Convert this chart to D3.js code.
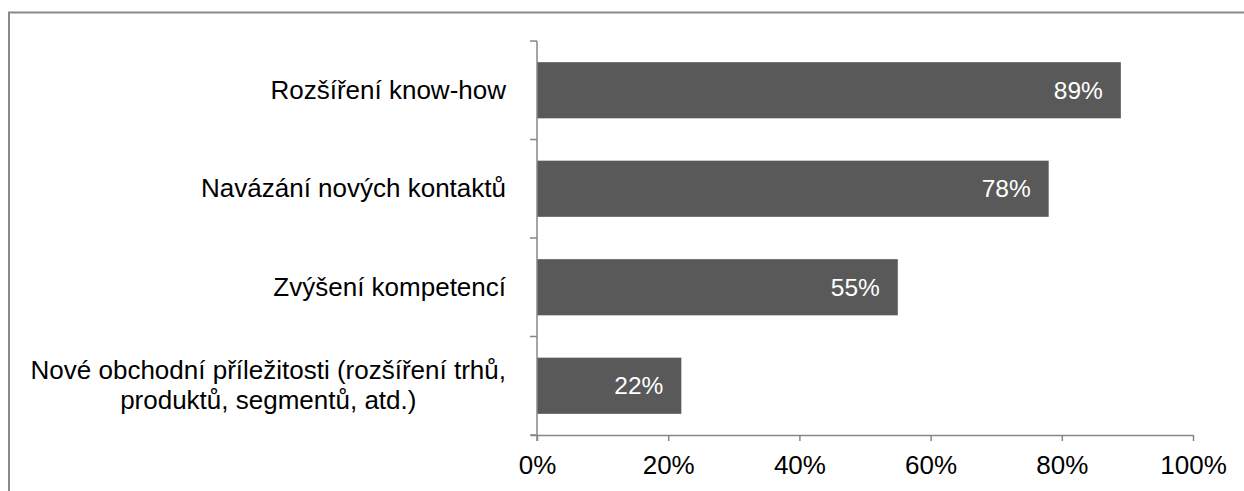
<!DOCTYPE html>
<html>
<head>
<meta charset="utf-8">
<script src="https://cdn.jsdelivr.net/npm/d3@7"></script>
<style>
html,body{margin:0;padding:0;background:#fff;}
svg{display:block;font-family:"Liberation Sans",Arial,sans-serif;}
</style>
</head>
<body>
<svg id="chart" width="1244" height="491"></svg>
<script>
const categories = [
  ["Rozšíření know-how"],
  ["Navázání nových kontaktů"],
  ["Zvýšení kompetencí"],
  ["Nové obchodní příležitosti (rozšíření trhů,", "produktů, segmentů, atd.)"]
];
const values = [89, 78, 55, 22];
const xTicks = [0, 20, 40, 60, 80, 100];

const svg = d3.select("#chart");
const axisColor = "#878787";

// chart border (top and left visible)
svg.append("path")
  .attr("d", "M9,491 V12.5 H1244")
  .attr("fill", "none").attr("stroke", "#8a8a8a").attr("stroke-width", 2);

const x = d3.scaleLinear().domain([0, 100]).range([537, 1193]);
const idx = d3.range(categories.length);
const y = d3.scaleBand().domain(idx).range([41, 435]).paddingInner(0.43).paddingOuter(0.215);

// bars
svg.selectAll("rect.bar").data(values).join("rect")
  .attr("class", "bar")
  .attr("x", x(0))
  .attr("y", (d, i) => y(i))
  .attr("width", d => x(d) - x(0))
  .attr("height", y.bandwidth())
  .attr("fill", "#595959");

// data labels
svg.selectAll("text.val").data(values).join("text")
  .attr("class", "val")
  .attr("x", d => x(d) - 18)
  .attr("y", (d, i) => y(i) + y.bandwidth() / 2 + 8.5)
  .attr("text-anchor", "end")
  .attr("fill", "#fff")
  .attr("font-size", 24.5)
  .text(d => d + "%");

// x axis
const xAxis = d3.axisBottom(x).tickValues(xTicks).tickFormat(d => d + "%").tickSize(6).tickSizeOuter(0);
const gx = svg.append("g").attr("transform", "translate(0,435)").call(xAxis);
gx.select(".domain").attr("stroke", axisColor).attr("stroke-width", 1.5).attr("d", "M531,0.5H1193");
gx.selectAll(".tick line").attr("stroke", axisColor).attr("stroke-width", 1.5);
gx.selectAll(".tick text").attr("fill", "#000").attr("font-size", 26).attr("font-family", "Liberation Sans, Arial, sans-serif").attr("dy", null).attr("y", 39);

// y axis line + ticks at band boundaries
const boundaries = d3.range(categories.length + 1).map(i => 41 + i * (435 - 41) / categories.length);
svg.append("line").attr("x1", 537).attr("x2", 537).attr("y1", 41).attr("y2", 441)
  .attr("stroke", axisColor).attr("stroke-width", 1.5);
svg.selectAll("line.ytick").data(boundaries).join("line")
  .attr("class", "ytick")
  .attr("x1", 530).attr("x2", 537)
  .attr("y1", d => d).attr("y2", d => d)
  .attr("stroke", axisColor).attr("stroke-width", 1.5);

// category labels (multi-line centred within right-aligned block)
const labelRight = 506;
const lineH = 30;
idx.forEach(i => {
  const lines = categories[i];
  const cy = y(i) + y.bandwidth() / 2;
  const g = svg.append("g");
  const texts = lines.map((t, j) => g.append("text")
    .attr("font-size", 26).attr("fill", "#000")
    .attr("y", cy + 8.5 + (j - (lines.length - 1) / 2) * lineH)
    .text(t));
  const widths = texts.map(t => t.node().getComputedTextLength());
  const maxW = d3.max(widths);
  const centerX = labelRight - maxW / 2;
  texts.forEach(t => t.attr("x", centerX).attr("text-anchor", "middle"));
});
</script>
</body>
</html>
